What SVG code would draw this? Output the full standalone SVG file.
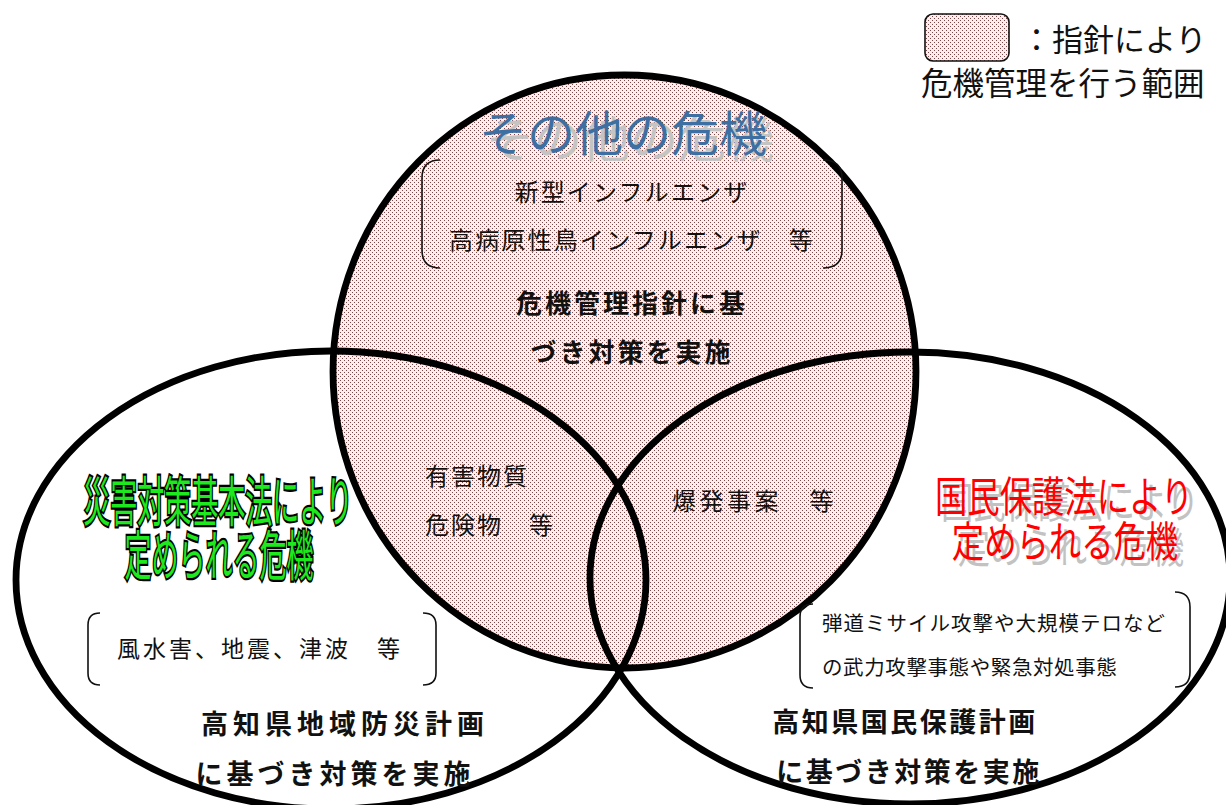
<svg xmlns="http://www.w3.org/2000/svg" width="1226" height="805" viewBox="0 0 1226 805">
<defs>
<pattern id="dots" x="0" y="0" width="4" height="4" patternUnits="userSpaceOnUse">
<rect width="4" height="4" fill="#feeeee"/>
<rect x="0" y="0" width="1" height="1" fill="#7a4848"/>
<rect x="2" y="2" width="1" height="1" fill="#7a4848"/>
</pattern>
</defs>
<style>
.t{font-family:"Noto Sans CJK JP","Noto Sans",sans-serif;fill:#111;}
.b{font-family:"Noto Sans CJK JP","Noto Sans",sans-serif;font-weight:700;fill:#111;}
.ring{fill:none;stroke:#000;stroke-width:6.8;}
.br{fill:none;stroke:#111;stroke-width:1.6;}
</style>
<rect width="1226" height="805" fill="#fff"/>

<g id="legend">
<rect x="925" y="14" width="84" height="47" rx="8" fill="url(#dots)" stroke="#111" stroke-width="1.6"/>
<text class="t" x="1021" y="51" font-size="31">：指針により</text>
<text class="t" x="921" y="95" font-size="31.5">危機管理を行う範囲</text>
</g>

<g id="top-fill">
<ellipse cx="624.5" cy="371.5" rx="291.5" ry="296.5" fill="url(#dots)"/>
</g>

<g id="connectors">
<ellipse class="ring" cx="624.5" cy="371.5" rx="291.5" ry="296.5"/>
<ellipse class="ring" cx="331" cy="580" rx="315" ry="229"/>
<ellipse class="ring" cx="910" cy="578" rx="320" ry="226"/>
</g>

<g id="top-node">
<text x="630" y="157" font-size="48" text-anchor="middle" fill="#c4c4c4" font-family="'Noto Sans CJK JP',sans-serif">その他の危機</text>
<text x="623" y="151" font-size="48" text-anchor="middle" fill="#3d6fa3" font-family="'Noto Sans CJK JP',sans-serif">その他の危機</text>
<path class="br" d="M440 160 Q422 160 422 178 L422 250 Q422 268 440 268"/>
<path class="br" d="M823 160 Q842 160 842 178 L842 250 Q842 268 823 268"/>
<text class="t" x="632" y="201" font-size="24" letter-spacing="2.2" text-anchor="middle">新型インフルエンザ</text>
<text class="t" x="632" y="249" font-size="24" letter-spacing="2.2" text-anchor="middle">高病原性鳥インフルエンザ　等</text>
<text class="b" x="632" y="313" font-size="26" letter-spacing="3" text-anchor="middle">危機管理指針に基</text>
<text class="b" x="632" y="362" font-size="26" letter-spacing="3" text-anchor="middle">づき対策を実施</text>
</g>

<g id="overlap-left">
<text class="t" x="425" y="485" font-size="24" letter-spacing="2">有害物質</text>
<text class="t" x="425" y="534" font-size="24" letter-spacing="2">危険物　等</text>
</g>

<g id="overlap-right">
<text class="t" x="672" y="510" font-size="24" letter-spacing="3.5">爆発事案　等</text>
</g>

<g id="left-node">
<g transform="translate(218 522) scale(0.5 1)">
<text x="0" y="0" font-size="54" text-anchor="middle" fill="#1ee81e" stroke="#000" stroke-width="4.5" paint-order="stroke" font-family="'Noto Sans CJK JP',sans-serif">災害対策基本法により</text>
</g>
<g transform="translate(219 576) scale(0.5 1)">
<text x="0" y="0" font-size="54" text-anchor="middle" fill="#1ee81e" stroke="#000" stroke-width="4.5" paint-order="stroke" font-family="'Noto Sans CJK JP',sans-serif">定められる危機</text>
</g>
<path class="br" d="M100 613 Q88 613 88 625 L88 673 Q88 685 100 685"/>
<path class="br" d="M423 613 Q436 613 436 625 L436 673 Q436 685 423 685"/>
<text class="t" x="260" y="657" font-size="23" letter-spacing="3" text-anchor="middle">風水害、地震、津波　等</text>
<text class="b" x="345" y="734" font-size="27" letter-spacing="5" text-anchor="middle">高知県地域防災計画</text>
<text class="b" x="335" y="784" font-size="27" letter-spacing="4" text-anchor="middle">に基づき対策を実施</text>
</g>

<g id="right-node">
<g transform="translate(1070 518) scale(0.77 1)">
<text x="0" y="0" font-size="42" text-anchor="middle" fill="#c2c2c2" font-family="'Noto Sans CJK JP',sans-serif">国民保護法により</text>
</g>
<g transform="translate(1071 563) scale(0.77 1)">
<text x="0" y="0" font-size="42" text-anchor="middle" fill="#c2c2c2" font-family="'Noto Sans CJK JP',sans-serif">定められる危機</text>
</g>
<g transform="translate(1064 512) scale(0.77 1)">
<text x="0" y="0" font-size="42" text-anchor="middle" fill="#ff0000" font-family="'Noto Sans CJK JP',sans-serif">国民保護法により</text>
</g>
<g transform="translate(1065 557) scale(0.77 1)">
<text x="0" y="0" font-size="42" text-anchor="middle" fill="#ff0000" font-family="'Noto Sans CJK JP',sans-serif">定められる危機</text>
</g>
<path class="br" d="M813 604 Q800 604 800 617 L800 675 Q800 688 813 688"/>
<path class="br" d="M1175 592 Q1190 592 1190 607 L1190 672 Q1190 687 1175 687"/>
<text class="t" x="822" y="631" font-size="20.5" letter-spacing="1">弾道ミサイル攻撃や大規模テロなど</text>
<text class="t" x="822" y="675" font-size="20.5" letter-spacing="0.6">の武力攻撃事態や緊急対処事態</text>
<text class="b" x="905" y="732" font-size="27" letter-spacing="2.5" text-anchor="middle">高知県国民保護計画</text>
<text class="b" x="909" y="782" font-size="27" letter-spacing="2.5" text-anchor="middle">に基づき対策を実施</text>
</g>
</svg>
